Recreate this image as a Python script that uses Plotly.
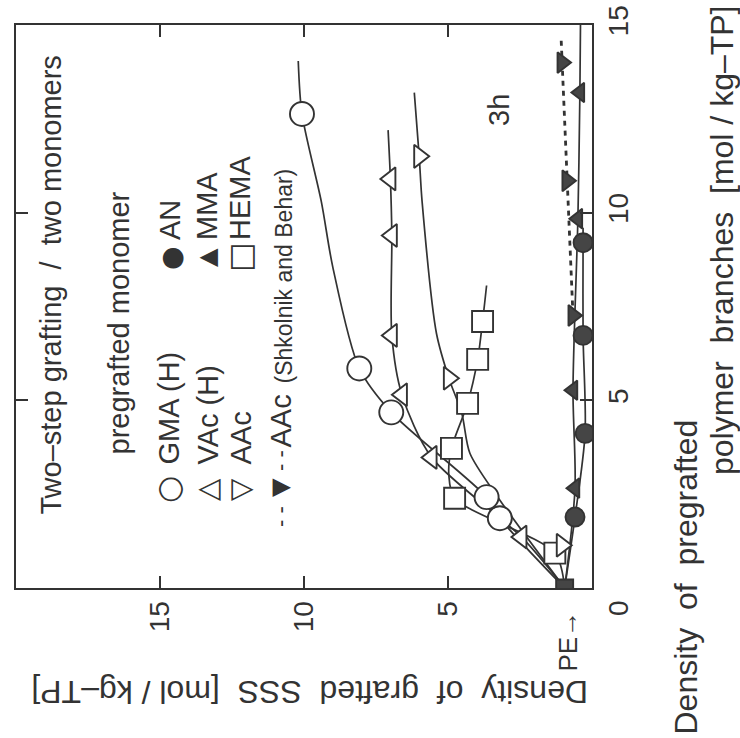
import plotly.graph_objects as go

# ---------------- data (x = density of pregrafted branches, y = density of grafted SSS) -------------
pe_dens = [0.0]
pe_sss = [0.95]

gma_dens = [1.86, 2.42, 4.68, 5.85, 12.63]
gma_sss = [3.20, 3.66, 6.97, 8.08, 10.07]
gma_curve_dens = [0.0, 1.86, 2.42, 4.68, 5.85, 8.55, 10.3, 12.63, 14.04]
gma_curve_sss = [0.95, 3.20, 3.66, 6.97, 8.08, 9.00, 9.40, 10.07, 10.20]

vac_dens = [1.36, 3.48, 5.15, 6.73, 9.39, 10.9]
vac_sss = [2.45, 5.57, 6.60, 6.95, 6.95, 7.00]
vac_curve_dens = [0.0, 1.36, 3.48, 5.15, 6.73, 9.39, 10.9, 12.2]
vac_curve_sss = [0.95, 2.45, 5.57, 6.60, 6.95, 6.95, 7.00, 7.08]

aac_dens = [1.14, 5.59, 11.5]
aac_sss = [1.05, 4.97, 6.00]
aac_curve_dens = [0.0, 2.42, 3.59, 4.65, 5.59, 6.78, 10.3, 11.5, 13.2]
aac_curve_sss = [0.95, 3.27, 4.24, 4.52, 4.97, 5.40, 5.90, 6.00, 6.17]

hema_dens = [0.93, 2.39, 3.72, 4.92, 6.09, 7.10]
hema_sss = [1.29, 4.77, 4.88, 4.32, 3.97, 3.80]
hema_curve_dens = [0.0, 0.93, 2.39, 3.0, 3.72, 4.92, 6.09, 7.10, 8.06]
hema_curve_sss = [0.95, 1.29, 4.77, 4.97, 4.88, 4.32, 3.97, 3.80, 3.66]

an_dens = [1.89, 4.12, 6.73, 9.20]
an_sss = [0.59, 0.24, 0.31, 0.31]
an_curve_dens = [0.0, 1.89, 4.12, 6.73, 9.20, 9.60]
an_curve_sss = [0.95, 0.59, 0.24, 0.31, 0.31, 0.31]

mma_dens = [2.66, 5.27, 9.84, 13.2]
mma_sss = [0.59, 0.66, 0.49, 0.42]
mma_curve_dens = [0.0, 2.66, 5.27, 9.84, 13.2, 15.0]
mma_curve_sss = [0.95, 0.59, 0.66, 0.49, 0.42, 0.40]

shk_dens = [7.26, 10.85, 14.0]
shk_sss = [0.66, 0.87, 1.04]
shk_curve_dens = [7.26, 10.85, 14.0, 14.6]
shk_curve_sss = [0.66, 0.87, 1.04, 1.07]

tick_vals = [0, 5, 10, 15]
tick_text = ["", "5", "10", "15"]

# ---------------- style ----------------
INK = "#333333"
FILL = "#454545"
FONT = "Liberation Sans, Arial, Helvetica, sans-serif"
SYMFONT = "DejaVu Sans, sans-serif"

fig = go.Figure()

# The chart is drawn rotated: SSS density runs along the horizontal axis (reversed),
# pregrafted density runs along the vertical axis.
curves = [
    (gma_curve_dens, gma_curve_sss),
    (vac_curve_dens, vac_curve_sss),
    (aac_curve_dens, aac_curve_sss),
    (hema_curve_dens, hema_curve_sss),
    (an_curve_dens, an_curve_sss),
    (mma_curve_dens, mma_curve_sss),
]
for d, s in curves:
    fig.add_trace(go.Scatter(x=s, y=d, mode="lines",
                             line=dict(color=INK, width=1.7, shape="spline", smoothing=0.8),
                             showlegend=False, hoverinfo="skip"))
fig.add_trace(go.Scatter(x=shk_curve_sss, y=shk_curve_dens, mode="lines",
                         line=dict(color=INK, width=2.8, dash="5px,5px"), showlegend=False, hoverinfo="skip"))

markers = [
    (hema_dens, hema_sss, "square", 21, "white"),
    (aac_dens, aac_sss, "triangle-right", 20, "white"),
    (vac_dens, vac_sss, "triangle-left", 20, "white"),
    (gma_dens, gma_sss, "circle", 24, "white"),
    (an_dens, an_sss, "circle", 19, FILL),
    (mma_dens, mma_sss, "triangle-left", 17, FILL),
    (shk_dens, shk_sss, "triangle-right", 18, FILL),
    (pe_dens, pe_sss, "square", 17, FILL),
]
for d, s, sym, size, col in markers:
    fig.add_trace(go.Scatter(x=s, y=d, mode="markers",
                             marker=dict(symbol=sym, size=size, color=col, line=dict(color=INK, width=1.9)),
                             showlegend=False, hoverinfo="skip"))

# ---------------- annotations (positions given in picture pixels) ----------------
L, R, T, B = 16, 592, 25, 588


def ann(text, px, py, size=29, angle=-90, xanchor="center", yanchor="bottom", family=FONT):
    return dict(text=text, x=(px - L) / (R - L), y=(B - py) / (B - T), xref="paper", yref="paper",
                showarrow=False, textangle=angle, xanchor=xanchor, yanchor=yanchor,
                font=dict(size=size, color=INK, family=family))


annotations = [
    ann("Two–step grafting  /  two monomers", 50, 517),
    ann("pregrafted monomer", 118, 457),
    ann("○", 168, 490, size=31, yanchor="middle", family=SYMFONT),
    ann("GMA (H)", 168, 467),
    ann("●", 170, 258, size=27, yanchor="middle", family=SYMFONT),
    ann("AN", 170, 242),
    ann("△", 207, 490, size=29, yanchor="middle", family=SYMFONT),
    ann("VAc (H)", 207, 467),
    ann("▲", 207, 258, size=24, yanchor="middle", family=SYMFONT),
    ann("MMA", 207, 242),
    ann("▽", 240, 490, size=29, yanchor="middle", family=SYMFONT),
    ann("AAc", 240, 467),
    ann("□", 240, 258, size=31, yanchor="middle", family=SYMFONT),
    ann("HEMA", 240, 242),
    ann("- -", 280, 517, size=22, yanchor="middle"),
    ann("▼", 280, 488, size=24, yanchor="middle", family=SYMFONT),
    ann("- -", 280, 461, size=22, yanchor="middle"),
    ann("AAc", 280, 450),
    ann("(Shkolnik and Behar)", 283, 386, size=23),
    ann("3h", 499, 110, yanchor="middle"),
    ann("PE→", 567, 674, size=26),
    ann("0", 618, 608, size=28, yanchor="middle"),
    ann("Density  of  grafted  SSS  [mol / kg–TP]", 310, 692, size=32, angle=180, yanchor="middle"),
    ann("Density  of  pregrafted", 685, 737, size=32),
    ann("polymer  branches  [mol / kg–TP]", 722, 477, size=32),
]

axis_common = dict(
    showline=True, linecolor=INK, linewidth=1.8, mirror="ticks",
    ticks="inside", ticklen=12, tickwidth=1.8, tickcolor=INK,
    tickvals=tick_vals, ticktext=tick_text, tickangle=-90,
    tickfont=dict(size=28, color=INK, family=FONT),
    showgrid=False, zeroline=False, automargin=False, ticklabelstandoff=0,
)

fig.update_layout(
    template="none",
    width=740, height=738,
    margin=dict(l=L, r=740 - R, t=T, b=738 - B, pad=0),
    paper_bgcolor="white", plot_bgcolor="white",
    xaxis=dict(range=[20, 0], **axis_common),
    yaxis=dict(range=[0, 15], side="right", **axis_common),
    annotations=annotations,
    showlegend=False,
)

fig.write_html("out.html")
